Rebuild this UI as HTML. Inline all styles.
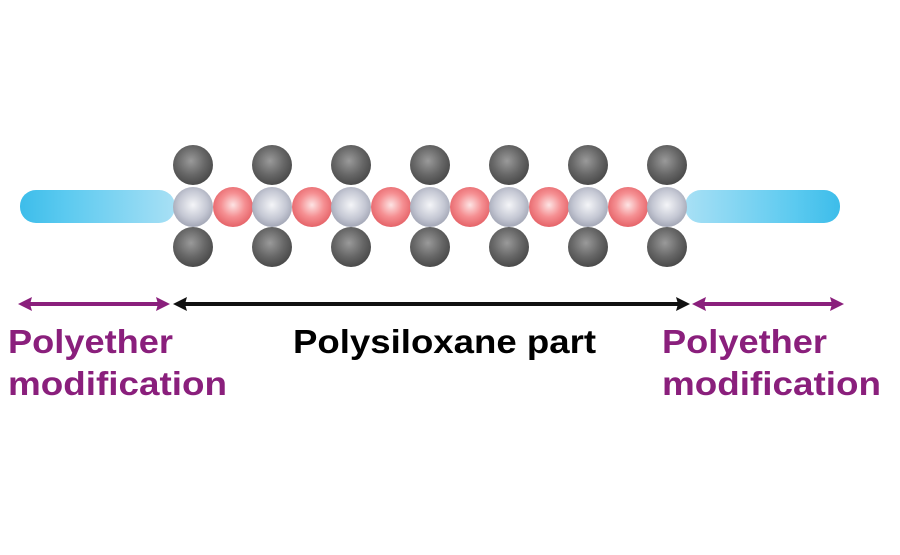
<!DOCTYPE html>
<html><head><style>html,body{margin:0;padding:0;background:#fff}</style></head>
<body>
<svg width="900" height="550" viewBox="0 0 900 550" xmlns="http://www.w3.org/2000/svg">
<defs>
<radialGradient id="g" cx="45%" cy="40%" r="60%"><stop offset="0" stop-color="#9a9a9a"/><stop offset="0.6" stop-color="#666"/><stop offset="1" stop-color="#4a4a4a"/></radialGradient>
<radialGradient id="s" cx="50%" cy="45%" r="60%"><stop offset="0" stop-color="#f4f5f8"/><stop offset="0.6" stop-color="#c4c7d3"/><stop offset="1" stop-color="#9a9eae"/></radialGradient>
<radialGradient id="r" cx="50%" cy="45%" r="60%"><stop offset="0" stop-color="#fde4e4"/><stop offset="0.5" stop-color="#f58f92"/><stop offset="1" stop-color="#e25a60"/></radialGradient>
<linearGradient id="bl" x1="0" x2="1"><stop offset="0" stop-color="#3dbdea"/><stop offset="0.3" stop-color="#5ccaf0"/><stop offset="1" stop-color="#a8e0f5"/></linearGradient>
<linearGradient id="br" x1="1" x2="0"><stop offset="0" stop-color="#3dbdea"/><stop offset="0.3" stop-color="#5ccaf0"/><stop offset="1" stop-color="#a8e0f5"/></linearGradient>
</defs>
<rect x="20" y="190" width="155" height="33" rx="16" fill="url(#bl)"/>
<rect x="685" y="190" width="155" height="33" rx="16" fill="url(#br)"/>
<g id="mol">
<circle cx="193" cy="165" r="20" fill="url(#g)"/><circle cx="193" cy="247" r="20" fill="url(#g)"/>
<circle cx="272" cy="165" r="20" fill="url(#g)"/><circle cx="272" cy="247" r="20" fill="url(#g)"/>
<circle cx="351" cy="165" r="20" fill="url(#g)"/><circle cx="351" cy="247" r="20" fill="url(#g)"/>
<circle cx="430" cy="165" r="20" fill="url(#g)"/><circle cx="430" cy="247" r="20" fill="url(#g)"/>
<circle cx="509" cy="165" r="20" fill="url(#g)"/><circle cx="509" cy="247" r="20" fill="url(#g)"/>
<circle cx="588" cy="165" r="20" fill="url(#g)"/><circle cx="588" cy="247" r="20" fill="url(#g)"/>
<circle cx="667" cy="165" r="20" fill="url(#g)"/><circle cx="667" cy="247" r="20" fill="url(#g)"/>
<circle cx="233" cy="207" r="20" fill="url(#r)"/><circle cx="312" cy="207" r="20" fill="url(#r)"/>
<circle cx="391" cy="207" r="20" fill="url(#r)"/><circle cx="470" cy="207" r="20" fill="url(#r)"/>
<circle cx="549" cy="207" r="20" fill="url(#r)"/><circle cx="628" cy="207" r="20" fill="url(#r)"/>
<circle cx="193" cy="207" r="20" fill="url(#s)"/><circle cx="272" cy="207" r="20" fill="url(#s)"/>
<circle cx="351" cy="207" r="20" fill="url(#s)"/><circle cx="430" cy="207" r="20" fill="url(#s)"/>
<circle cx="509" cy="207" r="20" fill="url(#s)"/><circle cx="588" cy="207" r="20" fill="url(#s)"/>
<circle cx="667" cy="207" r="20" fill="url(#s)"/>
</g>
<g fill="#8a1f7c" stroke="none">
<rect x="28" y="302" width="134" height="4"/>
<polygon points="18,304 32,297 30,304 32,311"/><polygon points="170,304 156,297 158,304 156,311"/>
<rect x="700" y="302" width="134" height="4"/>
<polygon points="692,304 706,297 704,304 706,311"/><polygon points="844,304 830,297 832,304 830,311"/>
</g>
<g fill="#111">
<rect x="183" y="302" width="497" height="4"/>
<polygon points="173,304 187,297 185,304 187,311"/><polygon points="690,304 676,297 678,304 676,311"/>
</g>
<g font-family="Liberation Sans, sans-serif" font-weight="bold" font-size="33">
<text x="8" y="353" fill="#8a1f7c" textLength="165" lengthAdjust="spacingAndGlyphs">Polyether</text>
<text x="8" y="395" fill="#8a1f7c" textLength="219" lengthAdjust="spacingAndGlyphs">modification</text>
<text x="662" y="353" fill="#8a1f7c" textLength="165" lengthAdjust="spacingAndGlyphs">Polyether</text>
<text x="662" y="395" fill="#8a1f7c" textLength="219" lengthAdjust="spacingAndGlyphs">modification</text>
<text x="293" y="353" fill="#000" textLength="303" lengthAdjust="spacingAndGlyphs">Polysiloxane part</text>
</g>
</svg>
</body></html>
